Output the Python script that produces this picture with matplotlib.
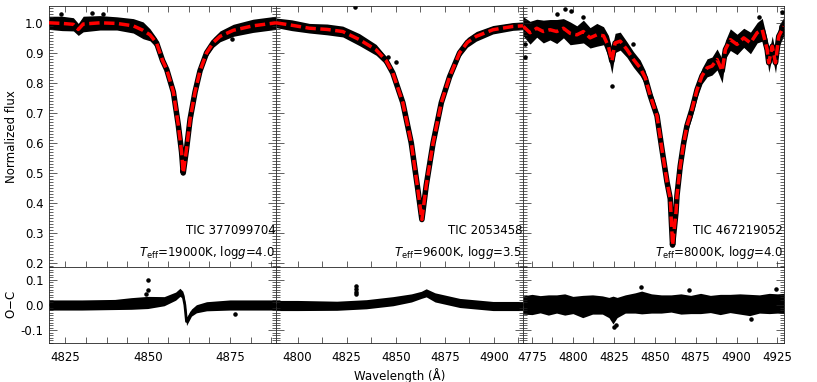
import matplotlib
matplotlib.use("Agg")
import matplotlib.pyplot as plt
from matplotlib.ticker import MultipleLocator, FormatStrFormatter

plt.rcParams['font.family'] = ['DejaVu Sans']
plt.rcParams['font.size'] = 8.5
plt.rcParams['mathtext.fontset'] = 'dejavusans'

# ---- Panel 1: TIC 377099704 ----
wl1 = [4820, 4824, 4827.4, 4828.9, 4830.4, 4835.5, 4840.6, 4845.6, 4848.6, 4850.7,
       4852.7, 4854.5, 4855.8, 4857.8, 4859.3, 4860.3, 4860.8, 4861.8, 4862.9, 4864.4,
       4865.9, 4867.9, 4870, 4872, 4876, 4882, 4889]
model1 = [1.0, 0.998, 0.995, 0.978, 0.996, 1.0, 0.998, 0.99, 0.975, 0.96,
          0.933, 0.875, 0.844, 0.77, 0.66, 0.57, 0.5, 0.58, 0.68, 0.77,
          0.84, 0.90, 0.935, 0.955, 0.975, 0.99, 1.0]
spread1 = [0.022, 0.024, 0.022, 0.02, 0.026, 0.024, 0.022, 0.024, 0.028, 0.02,
           0.016, 0.013, 0.012, 0.01, 0.008, 0.008, 0.008, 0.008, 0.008, 0.01,
           0.012, 0.014, 0.016, 0.018, 0.02, 0.022, 0.022]
out_wl1 = [4823.5, 4833, 4836.5, 4875.5]
out_fl1 = [1.03, 1.034, 1.028, 0.945]

oc_wl1 = [4820, 4830, 4840, 4845, 4850, 4855, 4858.5, 4859.8, 4860.7, 4861.3,
          4861.8, 4862.5, 4863.3, 4864.8, 4867.9, 4875, 4889]
oc_mid1 = [0.0, 0.0, 0.002, 0.006, 0.01, 0.015, 0.035, 0.05, 0.04, 0.0,
           -0.065, -0.05, -0.03, -0.015, -0.005, 0.0, 0.0]
oc_spr1 = [0.02, 0.02, 0.02, 0.023, 0.024, 0.018, 0.016, 0.016, 0.014, 0.014,
           0.016, 0.014, 0.014, 0.016, 0.018, 0.02, 0.02]
oc_out_wl1 = [4850, 4850, 4849.5, 4876.5]
oc_out1 = [0.10, 0.06, 0.045, -0.035]

# ---- Panel 2: TIC 2053458 ----
wl2 = [4789, 4797, 4806, 4815, 4823, 4831.5, 4840, 4845, 4848.5, 4853.6,
       4857.9, 4861.2, 4863.3, 4865.5, 4869, 4873.2, 4877.4, 4882.5, 4886.5, 4891,
       4899.5, 4909.7, 4914.8]
model2 = [1.0, 0.992, 0.982, 0.978, 0.971, 0.944, 0.91, 0.875, 0.833, 0.734,
          0.60, 0.447, 0.345, 0.458, 0.60, 0.734, 0.82, 0.90, 0.935, 0.955,
          0.977, 0.988, 0.99]
spread2 = [0.016, 0.018, 0.016, 0.018, 0.018, 0.02, 0.018, 0.014, 0.012, 0.01,
           0.008, 0.006, 0.006, 0.006, 0.008, 0.01, 0.012, 0.014, 0.016, 0.016,
           0.014, 0.013, 0.013]
out_wl2 = [4829, 4846, 4850]
out_fl2 = [1.052, 0.885, 0.87]

oc_wl2 = [4789, 4800, 4820, 4835, 4848.6, 4858, 4863, 4865.5, 4870, 4882.6,
          4899.5, 4914.8]
oc_mid2 = [-0.002, -0.002, -0.003, 0.003, 0.015, 0.028, 0.04, 0.048, 0.03, 0.008,
           -0.004, -0.004]
oc_spr2 = [0.02, 0.02, 0.018, 0.018, 0.018, 0.016, 0.014, 0.016, 0.018, 0.018,
           0.018, 0.018]
oc_out_wl2 = [4829.8, 4829.8, 4829.8, 4829.8]
oc_out2 = [0.075, 0.065, 0.05, 0.045]

# ---- Panel 3: TIC 467219052 ----
wl3 = [4769.7, 4773.8, 4777.9, 4781.9, 4786, 4790.1, 4794.2, 4798.3, 4802.4, 4806.4,
       4810.5, 4814.6, 4818.7, 4821.7, 4823.8, 4825.8, 4828.9, 4833, 4837, 4841.1,
       4844.2, 4847.3, 4849.3, 4851.4, 4854.4, 4857.5, 4859.5, 4860.9, 4863, 4863.6,
       4865.6, 4867.7, 4869.7, 4872.8, 4875.9, 4878.9, 4882, 4885, 4888.1, 4891.2,
       4893.2, 4896.2, 4900.3, 4904.4, 4908.5, 4912.6, 4915.7, 4918.7, 4919.7, 4921.8,
       4923.8, 4925.8, 4928.9]
model3 = [0.988, 0.967, 0.982, 0.971, 0.977, 0.971, 0.982, 0.965, 0.96, 0.971,
          0.95, 0.96, 0.957, 0.922, 0.873, 0.933, 0.939, 0.911, 0.878, 0.85,
          0.817, 0.757, 0.724, 0.69, 0.58, 0.47, 0.414, 0.26, 0.37, 0.425,
          0.524, 0.60, 0.657, 0.712, 0.778, 0.823, 0.85, 0.856, 0.878, 0.84,
          0.911, 0.944, 0.928, 0.95, 0.933, 0.967, 0.977, 0.911, 0.867, 0.922,
          0.867, 0.955, 0.988]
spread3 = [0.032, 0.038, 0.03, 0.038, 0.034, 0.04, 0.032, 0.038, 0.03, 0.038,
           0.034, 0.038, 0.03, 0.036, 0.042, 0.032, 0.03, 0.026, 0.026, 0.026,
           0.024, 0.02, 0.024, 0.02, 0.016, 0.012, 0.01, 0.008, 0.01, 0.012,
           0.016, 0.02, 0.024, 0.026, 0.026, 0.026, 0.03, 0.03, 0.035, 0.04,
           0.03, 0.036, 0.034, 0.032, 0.036, 0.034, 0.038, 0.034, 0.032, 0.034,
           0.034, 0.036, 0.03]
out_wl3 = [4770.5, 4771, 4790, 4795, 4799, 4806, 4823.9, 4837, 4914, 4928]
out_fl3 = [0.885, 0.93, 1.03, 1.045, 1.04, 1.02, 0.79, 0.93, 1.02, 1.035]

oc_wl3 = [4769.5, 4775, 4780, 4785, 4790, 4795, 4800, 4806, 4812, 4818,
          4822, 4824.5, 4827, 4832, 4838, 4842, 4848, 4854, 4860, 4866,
          4872, 4878, 4884, 4890, 4896, 4902, 4908, 4914, 4920, 4925, 4929]
oc_mid3 = [0.0, 0.002, 0.003, 0.0, 0.004, 0.002, 0.0, -0.006, 0.002, 0.0,
           -0.01, -0.02, -0.01, 0.004, 0.008, 0.01, 0.006, 0.004, 0.006, 0.004,
           0.002, 0.006, 0.004, 0.002, 0.006, 0.004, 0.0, 0.004, 0.006, 0.006, 0.006]
oc_spr3 = [0.036, 0.04, 0.034, 0.04, 0.036, 0.042, 0.034, 0.044, 0.038, 0.036,
           0.04, 0.055, 0.04, 0.036, 0.04, 0.045, 0.038, 0.036, 0.034, 0.04,
           0.036, 0.04, 0.034, 0.04, 0.036, 0.04, 0.042, 0.036, 0.04, 0.038, 0.04]
oc_out_wl3 = [4825, 4826.5, 4841.5, 4871, 4909, 4924]
oc_out3 = [-0.085, -0.08, 0.07, 0.06, -0.055, 0.065]

names = ['TIC 377099704', 'TIC 2053458', 'TIC 467219052']
params = [r'$T_{\rm eff}$=19000K, log$g$=4.0',
          r'$T_{\rm eff}$=9600K, log$g$=3.5',
          r'$T_{\rm eff}$=8000K, log$g$=4.0']
xlims = [(4820, 4889), (4789, 4914.8), (4769.5, 4929)]
xminor = [6.25, 12.5, 12.5]

panels = [
    (wl1, model1, spread1, out_wl1, out_fl1, oc_wl1, oc_mid1, oc_spr1, oc_out_wl1, oc_out1),
    (wl2, model2, spread2, out_wl2, out_fl2, oc_wl2, oc_mid2, oc_spr2, oc_out_wl2, oc_out2),
    (wl3, model3, spread3, out_wl3, out_fl3, oc_wl3, oc_mid3, oc_spr3, oc_out_wl3, oc_out3),
]

W, H = 817, 382
edges = [49, 276, 523, 784]
y_top, y_mid, y_bot = 6, 267, 343

fig = plt.figure(figsize=(W / 100, H / 100), dpi=100)


def style_axis(ax, minor_x, ymaj, ymin, show_top, show_ylabels):
    ax.xaxis.set_major_locator(MultipleLocator(25))
    ax.xaxis.set_minor_locator(MultipleLocator(minor_x))
    ax.yaxis.set_major_locator(MultipleLocator(ymaj))
    ax.yaxis.set_minor_locator(MultipleLocator(ymin))
    ax.tick_params(which='both', direction='in', top=show_top, right=True,
                   left=True, bottom=True, width=0.5, color='#222222')
    ax.tick_params(axis='y', which='major', length=6)
    ax.tick_params(axis='y', which='minor', length=3)
    ax.tick_params(axis='x', which='both', length=4)
    ax.tick_params(axis='x', pad=6)
    ax.tick_params(axis='y', pad=4)
    if not show_ylabels:
        ax.tick_params(labelleft=False)
    for s in ax.spines.values():
        s.set_linewidth(0.6)
        s.set_color('#222222')


for i, (wl, mod, spr, owl, ofl, cwl, cmid, cspr, cowl, coc) in enumerate(panels):
    l, r = edges[i], edges[i + 1]
    ax = fig.add_axes([l / W, 1 - y_mid / H, (r - l) / W, (y_mid - y_top) / H])
    axr = fig.add_axes([l / W, 1 - y_bot / H, (r - l) / W, (y_bot - y_mid) / H])

    # observed spectrum (dense band) + model
    lo = [m - s for m, s in zip(mod, spr)]
    hi = [m + s for m, s in zip(mod, spr)]
    ax.fill_between(wl, lo, hi, color='black', lw=0, zorder=1)
    ax.plot(wl, mod, color='black', lw=4, zorder=2, solid_joinstyle='round')
    ax.scatter(owl, ofl, s=5, color='black', zorder=2)
    ax.plot(wl, mod, color='red', lw=2.5, dashes=(3, 1.3), zorder=3)

    ax.set_xlim(*xlims[i])
    ax.set_ylim(0.187, 1.056)
    style_axis(ax, xminor[i], 0.1, 0.01, True, i == 0)
    ax.tick_params(labelbottom=False)
    ax.yaxis.set_major_formatter(FormatStrFormatter('%.1f'))

    ax.text(0.997, 0.308, names[i], transform=ax.get_yaxis_transform(),
            ha='right', va='center')
    ax.text(0.997, 0.235, params[i], transform=ax.get_yaxis_transform(),
            ha='right', va='center')

    # residuals
    clo = [m - s for m, s in zip(cmid, cspr)]
    chi = [m + s for m, s in zip(cmid, cspr)]
    axr.fill_between(cwl, clo, chi, color='black', lw=0, zorder=1)
    axr.plot(cwl, cmid, color='black', lw=2, zorder=2)
    axr.scatter(cowl, coc, s=5, color='black', zorder=2)
    axr.set_xlim(*xlims[i])
    axr.set_ylim(-0.15, 0.15)
    style_axis(axr, xminor[i], 0.1, 0.01, False, i == 0)
    axr.yaxis.set_major_formatter(FormatStrFormatter('%.1f'))

    if i == 0:
        ax.set_ylabel('Normalized flux')
        axr.set_ylabel('O$-$C')
        ax.yaxis.set_label_coords(-0.135, 0.5)
        axr.yaxis.set_label_coords(-0.135, 0.5)
    if i == 1:
        axr.set_xlabel('Wavelength (Å)', labelpad=3)

fig.savefig('out.png', dpi=100)
